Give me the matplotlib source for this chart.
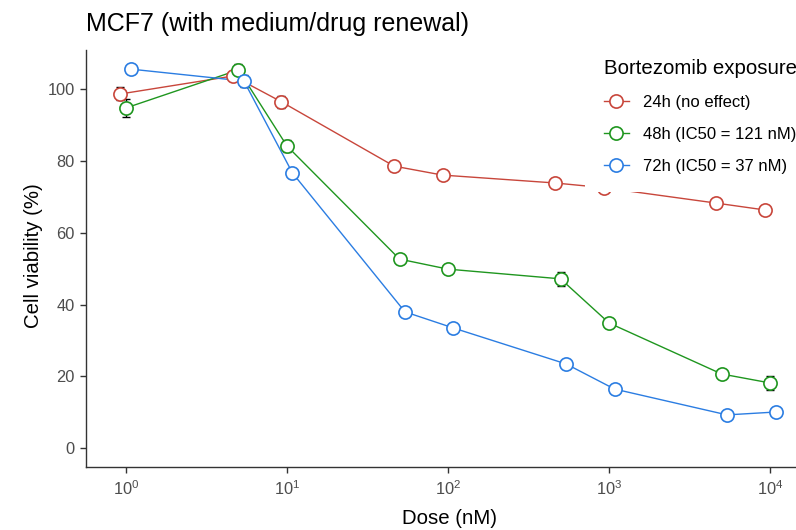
import matplotlib
matplotlib.use('Agg')
import matplotlib.pyplot as plt
from matplotlib.lines import Line2D
from matplotlib.ticker import LogLocator, NullLocator

plt.rcParams['font.family'] = ['Liberation Sans', 'DejaVu Sans']

# Dosis de bortezomib (nM) y viabilidad media (%) por tiempo de exposicion
dosis = [1, 5, 10, 50, 100, 500, 1000, 5000, 10000]

via_24h = [98.7, 103.7, 96.5, 78.6, 76.1, 73.9, 72.6, 68.3, 66.4]
via_48h = [94.8, 105.4, 84.2, 52.7, 49.9, 47.2, 34.9, 20.7, 18.2]
via_72h = [105.6, 102.3, 76.7, 38.0, 33.5, 23.5, 16.5, 9.3, 10.1]

err_24h = [1.8, 1.0, 1.6, 1.0, 0.8, 1.0, 1.0, 1.0, 0.8]
err_48h = [2.5, 1.6, 1.8, 1.0, 1.0, 1.9, 1.0, 1.0, 1.9]
err_72h = [0.8, 1.6, 1.0, 1.0, 0.8, 1.0, 0.8, 0.8, 0.8]

etiquetas = ['24h (no effect)', '48h (IC50 = 121 nM)', '72h (IC50 = 37 nM)']
colores = ['#C8463B', '#1F961F', '#2B7DE2']
desplazamiento = [-0.034, 0.0, 0.034]  # corrimiento en decadas para que no se pisen

series = [via_24h, via_48h, via_72h]
errores = [err_24h, err_48h, err_72h]

fig = plt.figure(figsize=(7.96, 5.30), dpi=100)
ax = fig.add_axes([86 / 796, 63.3 / 530, 710 / 796, 416.9 / 530])

for i in range(3):
    x = [d * 10 ** desplazamiento[i] for d in dosis]
    ax.plot(x, series[i], color=colores[i], lw=1.0, zorder=2)
    ax.errorbar(x, series[i], yerr=errores[i], fmt='none', ecolor='black',
                elinewidth=1.0, capsize=3, capthick=1.0, zorder=3)

for i in range(3):
    x = [d * 10 ** desplazamiento[i] for d in dosis]
    ax.plot(x, series[i], 'o', color=colores[i], mfc='white', ms=9.5,
            mew=1.2, zorder=4 + i * 0.1)

ax.set_xscale('log')
ax.set_xlim(10 ** -0.248, 10 ** 4.161)
ax.set_ylim(-5.13, 111)
ax.xaxis.set_major_locator(LogLocator(base=10, numticks=10))
ax.xaxis.set_minor_locator(NullLocator())
ax.set_yticks([0, 20, 40, 60, 80, 100])

for lado in ['top', 'right']:
    ax.spines[lado].set_visible(False)
for lado in ['left', 'bottom']:
    ax.spines[lado].set_color('#333333')
    ax.spines[lado].set_linewidth(1.0)

ax.tick_params(axis='both', colors='#333333', labelcolor='#4D4D4D',
               labelsize=11.8, length=4.2, width=1.0)
ax.tick_params(axis='x', pad=5)
ax.tick_params(axis='y', pad=3.8)

fig.text(86 / 796, 1 - 30.7 / 530, 'MCF7 (with medium/drug renewal)',
         fontsize=18, ha='left', va='baseline', color='black')
fig.text(449 / 796, 1 - 524.3 / 530, 'Dose (nM)', fontsize=14.7,
         ha='center', va='baseline', color='black')
fig.text(33.3 / 796, 1 - 255.8 / 530, 'Cell viability (%)', fontsize=14.7,
         rotation=90, ha='center', va='center', color='black')

# Leyenda con fondo blanco (tapa parte de la curva de 24h)
handles = [Line2D([], [], color=c, lw=1.0, marker='o', mfc='white', ms=9.5, mew=1.2)
           for c in colores]
leg = ax.legend(handles, etiquetas, title='Bortezomib exposure',
                loc='upper left', bbox_to_anchor=(577 / 796, 1 - 32 / 530),
                bbox_transform=fig.transFigure, fontsize=12,
                title_fontproperties={'size': 14.7}, alignment='left',
                frameon=True, facecolor='white', edgecolor='none',
                framealpha=1, fancybox=False, handlelength=1.5,
                handletextpad=0.85, labelspacing=1.02, borderpad=1.1)
for t in leg.get_texts():
    t.set_color('black')

fig.savefig('out.png', dpi=100)
